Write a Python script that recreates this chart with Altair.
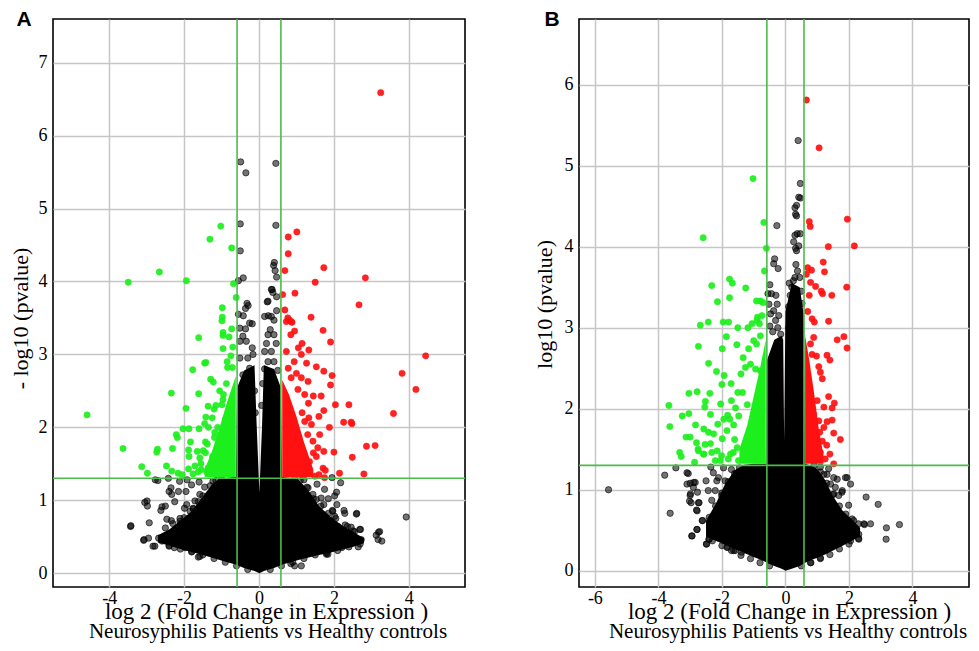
import altair as alt
import pandas as pd

SERIF = "Liberation Serif"
SANS = "Liberation Sans"

# ---------------- Panel A data ----------------
# non-significant genes (black), scattered points
a_ns = [[-0.49,5.64],[-0.35,5.49],[0.45,5.62],[-0.50,4.79],[0.45,4.77],[-0.50,4.42],[0.41,4.26],[0.39,4.22],[0.43,4.15],[0.47,4.06],
        [-0.42,4.05],[-0.55,4.01],[0.35,3.89],[0.37,3.85],[0.47,3.79],[0.22,3.72],[-0.32,3.70],[-0.29,3.67],[-0.36,3.63],[-0.55,3.55],
        [-0.42,3.53],[0.25,3.53],[0.47,3.60],[0.40,3.47],[-0.18,3.42],[-0.36,3.35],[0.30,3.34],[-0.51,3.36],[-0.25,3.43],[-0.43,3.25],
        [-0.18,3.09],[-0.34,3.18],[-0.51,3.18],[-0.16,3.00],[-0.51,2.95],[-0.30,2.95],[-0.25,2.81],[-0.43,2.72],[0.33,3.89],[0.24,3.73],
        [0.15,3.52],[0.33,3.52],[0.24,3.27],[0.40,3.27],[0.20,3.15],[0.46,3.15],[0.15,3.04],[0.33,3.04],[0.24,2.90],[0.40,2.90],
        [0.15,2.80],[0.50,2.78],[0.10,2.60],[-0.12,2.50],[-0.10,2.20],[0.07,2.30],
        [-2.77,1.28],[-2.70,1.27],[-2.42,1.30],[-2.35,1.17],[-2.40,1.12],[-2.33,1.08],[-2.12,1.26],[-2.15,1.12],[-2.99,0.99],[-2.98,0.92],
        [-2.59,0.91],[-2.62,0.86],[-3.43,0.64],[-2.93,0.69],[-2.46,0.74],[-2.34,0.72],[-2.11,0.75],[-2.09,0.68],[-3.08,0.45],[-2.95,0.48],
        [-2.83,0.37],[-1.99,0.89],[-1.93,0.94],[-1.84,0.85],[-1.71,0.99],[-2.68,0.48],[-2.59,0.44],[-2.46,0.44],[-2.40,0.37],[-2.24,0.55],
        [-2.26,0.35],[-2.06,0.44],[-1.97,0.35],[-1.79,0.30],[-1.62,0.22],[-3.05,0.97],[-3.42,0.65],[-3.07,0.46],[-2.78,0.37],[-2.50,0.92],
        [-2.11,0.71],[-2.07,0.53],[-1.80,1.21],[-1.58,1.08],[-1.49,0.85],[-1.76,0.89],[-1.58,0.23],[-1.23,1.26],[-1.92,1.28],[-1.60,1.25],
        [-1.45,1.18],[-1.95,1.12],[-2.25,0.98],[-1.62,0.98],
        [-2.50,0.62],[-2.30,0.68],[-2.00,0.76],[-1.75,0.88],[-1.50,1.06],[-1.30,1.20],[-1.15,1.27],[-1.00,1.29],[-2.40,0.38],[-2.10,0.33],
        [-1.80,0.29],[-1.50,0.25],[-1.20,0.20],[-0.90,0.15],[-0.60,0.10],[-0.30,0.05],[0.30,0.05],[0.60,0.10],[0.90,0.15],[1.20,0.20],
        [1.50,0.25],[1.80,0.28],[2.10,0.31],[2.40,0.36],[2.70,0.40],[0.95,1.29],[1.10,1.27],[1.28,1.18],[1.45,1.02],[1.65,0.92],
        [1.85,0.82],[2.05,0.75],[2.30,0.66],[2.55,0.57],
        [1.95,1.31],[2.18,1.24],[2.07,1.11],[2.02,1.06],[2.08,0.94],[2.27,0.86],[2.29,0.82],[2.61,0.82],[3.93,0.77],[2.71,0.60],
        [3.22,0.57],[3.13,0.52],[3.18,0.46],[3.28,0.44],[2.65,0.36],[0.85,0.13],[0.95,0.10],[1.96,0.86],[2.02,0.78],[1.98,0.67],
        [2.11,0.64],[2.36,0.64],[2.46,0.63],[2.55,0.44],[2.73,0.46],[2.46,0.53],[1.31,1.17],[1.44,1.08],[1.53,1.01],[1.66,1.03],
        [1.73,0.94],[1.49,0.87],[1.80,0.26],[2.21,0.35],[1.97,0.85],[2.60,0.81],[2.69,0.60],[3.19,0.56],[1.84,0.26],[1.13,0.10],
        [2.42,0.48],[2.51,0.58],[1.20,1.28],[1.55,1.22],[1.75,1.15],[1.85,1.02]]
# down-regulated genes (green)
a_dn = [[-1.02,4.76],[-1.31,4.58],[-0.73,4.46],[-2.66,4.13],[-3.49,3.99],[-1.94,4.01],[-0.68,3.97],[-0.61,3.78],[-0.98,3.64],[-0.98,3.51],
        [-0.99,3.46],[-0.96,3.30],[-0.96,3.26],[-0.73,3.35],[-1.61,3.23],[-0.80,3.24],[-0.96,3.08],[-0.75,2.98],[-1.45,2.88],[-1.42,2.89],
        [-1.77,2.79],[-0.84,2.82],[-0.71,2.82],[-1.29,2.66],[-1.22,2.62],[-0.87,2.60],[-2.34,2.47],[-1.61,2.46],[-0.95,2.45],[-0.96,2.38],
        [-0.99,2.31],[-1.36,2.29],[-1.20,2.25],[-1.95,2.26],[-4.59,2.17],[-1.42,2.14],[-1.25,2.13],[-0.90,2.11],[-1.45,2.05],[-1.35,2.00],
        [-1.60,1.98],[-2.03,1.98],[-1.87,1.98],[-2.21,1.90],[-2.18,1.86],[-1.18,1.93],[-1.19,1.86],[-1.83,1.80],[-1.43,1.80],[-1.38,1.77],
        [-3.63,1.71],[-2.71,1.70],[-2.73,1.66],[-2.31,1.71],[-1.88,1.69],[-1.87,1.60],[-1.65,1.67],[-1.58,1.58],[-1.49,1.68],[-1.43,1.65],
        [-1.24,1.60],[-1.20,1.57],[-1.27,1.51],[-3.13,1.46],[-2.98,1.37],[-2.47,1.47],[-2.33,1.40],[-2.16,1.37],[-1.88,1.43],[-1.71,1.47],
        [-1.62,1.39],[-1.54,1.42],[-1.40,1.39],[-1.36,1.44],[-1.76,1.36],[-2.05,1.35],[-1.55,1.50],[-1.10,2.00],[-0.85,2.90],[-0.70,3.10],
        [-1.05,2.50],[-1.15,2.30]]
# up-regulated genes (red)
a_up = [[3.25,6.59],[1.01,4.68],[0.78,4.61],[0.78,4.38],[0.69,4.15],[1.73,4.19],[1.50,3.99],[2.84,4.05],[0.63,3.82],[0.96,3.84],
        [2.67,3.68],[1.39,3.51],[0.69,3.61],[0.81,3.47],[0.88,3.44],[1.71,3.33],[1.91,3.17],[1.15,3.15],[1.33,3.06],[1.27,2.88],
        [1.53,2.83],[1.73,2.77],[1.95,2.71],[1.91,2.58],[1.31,2.63],[4.45,2.98],[3.82,2.74],[4.19,2.52],[3.59,2.19],[1.45,2.43],
        [1.66,2.43],[2.04,2.31],[2.40,2.31],[1.32,2.33],[1.73,2.23],[1.60,2.15],[2.26,2.07],[2.46,2.07],[2.48,2.05],[1.88,2.00],
        [2.87,1.74],[3.10,1.75],[1.73,1.67],[2.00,1.66],[2.49,1.59],[1.77,1.41],[2.15,1.37],[2.80,1.36],[1.49,1.33],[1.75,1.31],
        [0.77,3.50],[0.73,3.45],[0.86,3.45],[1.05,3.09],[1.13,3.00],[0.95,3.32],[0.85,3.27],[0.94,2.90],[0.73,3.04],[0.78,2.81],
        [1.00,2.74],[0.86,2.68],[1.13,2.68],[1.04,2.52],[1.22,2.45],[1.33,2.13],[1.22,2.08],[1.40,2.04],[1.53,1.60],[1.35,1.53],
        [1.22,1.44],[1.62,1.90],[1.44,1.81],[1.57,1.72],[1.71,1.44],[1.60,1.35],[1.45,1.65],[1.30,1.90],[1.15,2.20]]
# envelopes of the densely over-plotted cores
a_core_x  = [-2.7, -2.4, -2.1, -1.8, -1.5, -1.25, -1.05, -0.85, -0.62, -0.58, -0.4, -0.12, -0.06, 0.01, 0.08, 0.13, 0.4, 0.58, 0.62, 0.85, 1.05, 1.3, 1.6, 1.9, 2.2, 2.5, 2.8]
a_core_lo = [0.42, 0.38, 0.33, 0.29, 0.25, 0.21, 0.18, 0.15, 0.12, 0.11, 0.07, 0.03, 0.015, 0.0, 0.015, 0.03, 0.07, 0.11, 0.12, 0.15, 0.18, 0.21, 0.25, 0.28, 0.32, 0.36, 0.41]
a_core_hi = [0.52, 0.60, 0.72, 0.85, 1.05, 1.22, 1.30, 1.31, 1.32, 2.55, 2.78, 2.85, 2.0, 1.1, 2.0, 2.85, 2.8, 2.55, 1.32, 1.31, 1.28, 1.15, 0.92, 0.78, 0.66, 0.57, 0.48]
a_dn_core_x  = [-1.45, -1.25, -1.05, -0.85, -0.62]
a_dn_core_lo = [1.32, 1.32, 1.32, 1.32, 1.32]
a_dn_core_hi = [1.42, 1.68, 2.00, 2.35, 2.70]
a_up_core_x  = [0.62, 0.80, 1.00, 1.20, 1.45]
a_up_core_lo = [1.32, 1.32, 1.32, 1.32, 1.32]
a_up_core_hi = [2.65, 2.45, 2.15, 1.80, 1.42]

# ---------------- Panel B data ----------------
b_ns = [[0.40,5.31],[0.47,4.78],[0.42,4.61],[0.47,4.60],[0.35,4.51],[0.30,4.48],[0.32,4.40],[0.35,4.38],[-0.27,4.26],[0.30,4.14],
        [0.37,4.16],[0.47,4.16],[0.26,4.06],[0.42,4.01],[0.32,3.98],[0.35,3.95],[-0.34,3.85],[-0.37,3.79],[-0.23,3.73],[0.33,3.78],
        [0.38,3.70],[0.45,3.62],[0.25,3.58],[-0.49,3.53],[-0.55,3.42],[-0.44,3.42],[-0.30,3.40],[-0.52,3.29],[-0.26,3.29],[-0.37,3.21],
        [-0.21,3.15],[-0.47,3.17],[-0.31,3.09],[-0.49,3.02],[-0.24,3.00],[0.10,3.26],[0.16,3.15],[0.10,3.00],[0.20,3.50],[0.15,3.40],
        [0.50,3.45],[0.52,3.30],[-0.40,2.95],[-0.15,2.92],[0.30,3.62],[0.12,3.55],
        [-5.57,1.00],[-3.80,1.18],[-3.45,1.27],[-3.63,0.71],[-3.10,1.21],[-3.00,1.08],[-2.84,1.09],[-2.90,1.03],[-2.77,0.97],[-3.00,0.93],
        [-3.02,0.86],[-2.74,0.84],[-2.80,0.75],[-2.79,0.51],[-2.95,0.43],[-2.61,0.62],[-2.32,0.62],[-2.32,0.51],[-2.40,0.39],[-2.48,0.33],
        [-2.50,1.11],[-2.27,1.21],[-2.43,0.99],[-2.21,0.99],[-2.32,0.87],[-2.01,0.93],[-2.01,0.76],[-2.16,1.11],[-1.82,0.29],[-1.58,0.25],
        [-1.38,0.23],[-2.11,1.15],[-1.90,1.11],[-1.74,1.07],[-2.06,0.49],[-2.11,0.41],[-3.06,1.20],[-3.10,1.07],[-2.89,1.09],[-2.99,0.95],
        [-2.97,0.84],[-2.72,0.84],[-2.78,0.74],[-2.62,0.62],[-2.94,0.43],[-2.78,0.51],[-2.49,0.33],[-2.41,0.39],[-2.31,0.49],[-2.26,0.62],
        [-2.05,0.53],[-1.84,0.29],[-1.63,0.25],[-1.70,1.25],[-1.95,1.27],[-2.35,1.28],
        [-2.40,0.66],[-2.20,0.80],[-2.00,0.96],[-1.80,1.10],[-1.60,1.20],[-1.45,1.27],[-2.30,0.37],[-2.00,0.31],[-1.70,0.25],[-1.40,0.19],
        [-1.10,0.15],[-0.80,0.10],[-0.50,0.06],[0.50,0.06],[0.80,0.10],[1.10,0.15],[1.40,0.20],[1.70,0.27],[2.00,0.33],[2.30,0.40],
        [0.90,1.30],[1.10,1.22],[1.30,1.08],[1.50,0.94],[1.70,0.80],[1.90,0.70],[2.10,0.64],[2.30,0.58],
        [2.54,0.91],[2.92,0.82],[1.94,1.15],[2.05,1.07],[1.63,1.13],[1.79,0.99],[1.68,0.93],[1.99,0.81],[2.49,0.57],[2.68,0.58],
        [3.18,0.53],[3.59,0.57],[3.17,0.39],[2.31,0.39],[1.10,0.16],[0.79,0.10],[1.89,1.15],[1.78,0.97],[1.52,1.15],[1.57,1.03],
        [1.73,0.70],[2.15,0.62],[2.31,0.45],[2.05,0.37],[1.21,1.19],[1.36,1.26],[2.47,0.58],[1.31,1.19],[1.42,1.07],[1.52,0.95],
        [1.10,1.28],[2.20,0.50]]
b_dn = [[-1.02,4.84],[-0.68,4.30],[-2.59,4.11],[-0.60,3.98],[-0.66,3.70],[-1.76,3.60],[-1.67,3.55],[-2.32,3.52],[-1.25,3.49],[-1.76,3.37],
        [-2.14,3.32],[-0.91,3.33],[-0.79,3.33],[-0.71,3.31],[-0.88,3.13],[-0.74,3.15],[-2.68,3.03],[-2.43,3.07],[-1.96,3.07],[-1.79,3.07],
        [-1.50,3.00],[-1.18,3.00],[-1.05,3.05],[-0.89,3.09],[-0.82,3.05],[-1.86,2.89],[-2.74,2.77],[-1.99,2.74],[-1.53,2.79],[-1.16,2.74],
        [-1.00,2.84],[-0.91,2.80],[-0.79,2.90],[-1.33,2.63],[-2.42,2.56],[-2.17,2.46],[-1.93,2.41],[-1.71,2.31],[-1.40,2.43],[-1.26,2.51],
        [-1.10,2.55],[-0.94,2.49],[-0.79,2.47],[-3.04,2.19],[-2.78,2.21],[-2.38,2.19],[-2.52,2.09],[-2.54,2.02],[-3.67,2.04],[-2.04,2.06],
        [-1.57,2.01],[-1.47,1.91],[-1.82,1.92],[-1.94,1.87],[-1.75,1.87],[-3.04,1.94],[-3.25,1.91],[-3.64,1.78],[-2.36,1.93],[-2.83,1.80],
        [-2.57,1.75],[-2.42,1.71],[-2.26,1.69],[-2.13,1.81],[-3.13,1.65],[-3.00,1.65],[-2.80,1.58],[-2.75,1.50],[-3.33,1.46],[-3.28,1.41],
        [-2.86,1.34],[-2.57,1.44],[-2.36,1.57],[-2.15,1.48],[-1.99,1.63],[-1.84,1.73],[-1.63,1.80],[-2.05,1.36],[-1.73,1.44],[-1.52,1.52],
        [-2.74,1.48],[-2.58,1.44],[-2.53,1.56],[-2.32,1.46],[-2.21,1.36],[-2.01,1.42],[-1.80,1.38],[-1.64,1.46],[-1.48,1.36],[-1.60,1.62],
        [-1.35,2.20],[-1.20,2.05],[-1.50,2.20],[-2.00,2.30],[-1.70,2.10]]
b_up = [[0.66,5.81],[1.06,5.22],[1.95,4.34],[0.75,4.31],[0.78,4.25],[1.35,4.00],[2.17,4.01],[1.19,3.81],[1.23,3.69],[0.70,3.74],
        [0.82,3.71],[0.66,3.66],[1.93,3.50],[0.79,3.56],[0.95,3.51],[1.13,3.45],[1.17,3.42],[1.46,3.40],[0.75,3.40],[1.36,3.08],
        [0.84,3.11],[0.91,3.07],[1.63,2.85],[1.84,2.89],[1.94,2.75],[1.31,2.66],[1.40,2.60],[0.98,2.65],[1.05,2.52],[1.16,2.37],
        [1.10,2.45],[1.36,2.15],[1.54,2.07],[1.47,2.01],[1.21,2.02],[1.47,1.86],[1.31,1.84],[1.52,1.70],[1.73,1.62],[1.40,1.44],
        [1.52,1.32],[1.08,1.71],[1.16,1.60],[1.00,1.56],[1.10,1.46],[1.00,2.10],[0.89,1.93],[1.05,1.85],[1.21,1.77],[0.89,2.88],
        [0.79,2.80],[0.84,2.67],[0.70,3.20],[1.30,1.55],[1.25,1.38]]
b_core_x  = [-2.5, -2.2, -1.9, -1.6, -1.3, -1.0, -0.8, -0.62, -0.58, -0.35, -0.12, -0.07, -0.04, 0.0, 0.2, 0.45, 0.58, 0.62, 0.8, 1.0, 1.25, 1.5, 1.8, 2.1, 2.35]
b_core_lo = [0.42, 0.37, 0.32, 0.27, 0.22, 0.17, 0.14, 0.11, 0.10, 0.06, 0.025, 0.015, 0.01, 0.0, 0.025, 0.06, 0.09, 0.10, 0.13, 0.16, 0.20, 0.25, 0.31, 0.37, 0.43]
b_core_hi = [0.62, 0.82, 1.07, 1.24, 1.31, 1.32, 1.32, 1.32, 2.60, 2.85, 2.90, 2.85, 1.60, 3.20, 3.55, 3.50, 3.15, 1.32, 1.30, 1.26, 1.12, 0.92, 0.74, 0.63, 0.53]
b_dn_core_x  = [-1.45, -1.20, -1.00, -0.80, -0.62]
b_dn_core_lo = [1.32, 1.32, 1.32, 1.32, 1.32]
b_dn_core_hi = [1.50, 1.80, 2.15, 2.50, 2.85]
b_up_core_x  = [0.62, 0.75, 0.90, 1.05, 1.20]
b_up_core_lo = [1.32, 1.32, 1.32, 1.32, 1.32]
b_up_core_hi = [2.90, 2.60, 2.20, 1.75, 1.42]

# thresholds: |log2 FC| = log2(1.5), p = 0.05
fc_cut = [-0.585, 0.585]
p_cut = [1.301]

GREEN = "#1def1d"
RED = "#ff1111"
LINE = "#4cbb4c"


def pts(pairs):
    return pd.DataFrame(pairs, columns=["x", "y"])


def env(xs, lo, hi):
    return pd.DataFrame({"x": xs, "lo": lo, "hi": hi})


def panel(letter, ns, dn, up, core, dn_core, up_core, xdom, ydom, xticks, yticks,
          width, ytitle, xtitle_x, ytitle_x, ytitle_y, sub_dx, letter_x):
    xs = alt.Scale(domain=xdom, nice=False, zero=False)
    ys = alt.Scale(domain=ydom, nice=False, zero=False)
    xax = alt.Axis(values=xticks, grid=True, gridColor="#c6c6c6", gridWidth=1.5, domain=False,
                   ticks=False, labelFont=SERIF, labelFontSize=18, labelColor="black", labelPadding=2,
                   labelExpr="'' + datum.value", labelFlush=False,
                   title="log 2 (Fold Change in Expression )", titleFont=SERIF, titleFontSize=23,
                   titleFontWeight="normal", titleColor="black", titleX=xtitle_x, titleY=31,
                   titleBaseline="alphabetic", titleAlign="center")
    yax = alt.Axis(values=yticks, grid=True, gridColor="#c6c6c6", gridWidth=1.5, domain=False,
                   ticks=False, labelFont=SERIF, labelFontSize=18, labelColor="black", labelPadding=6,
                   labelExpr="'' + datum.value", labelFlush=False,
                   title=ytitle, titleFont=SERIF, titleFontSize=22, titleFontWeight="normal",
                   titleColor="black", titleX=ytitle_x, titleY=ytitle_y, titleBaseline="alphabetic",
                   titleAlign="center", titleAngle=270)
    X = alt.X("x:Q", scale=xs, axis=xax)

    def area(df, color):
        return alt.Chart(df).mark_area(color=color, opacity=1, interpolate="linear").encode(
            x=X, y=alt.Y("lo:Q", scale=ys, axis=yax), y2="hi:Q")

    def dots(df, **kw):
        return alt.Chart(df).mark_point(filled=True, shape="circle", size=40, **kw).encode(
            x=X, y=alt.Y("y:Q", scale=ys, axis=yax))

    layers = [
        area(core, "black"),
        dots(ns, fill="black", fillOpacity=0.55, stroke="black", strokeOpacity=0.75, strokeWidth=0.8),
        area(dn_core, GREEN),
        dots(dn, fill=GREEN, fillOpacity=0.92, stroke=GREEN, strokeWidth=0.5),
        area(up_core, RED),
        dots(up, fill=RED, fillOpacity=0.92, stroke=RED, strokeWidth=0.5),
        alt.Chart(pd.DataFrame({"x": fc_cut})).mark_rule(color=LINE, strokeWidth=1.6).encode(x=X),
        alt.Chart(pd.DataFrame({"y": p_cut})).mark_rule(color=LINE, strokeWidth=1.6).encode(
            y=alt.Y("y:Q", scale=ys, axis=yax)),
        alt.Chart(pd.DataFrame({"t": [letter]})).mark_text(
            font=SANS, fontSize=21, fontWeight="bold", align="center", baseline="alphabetic",
            color="black").encode(text="t:N", x=alt.value(letter_x), y=alt.value(7)),
    ]
    return alt.layer(*layers).properties(
        width=width, height=568,
        title=alt.TitleParams("Neurosyphilis Patients vs Healthy controls", orient="bottom",
                              font=SERIF, fontSize=21, fontWeight="normal", color="black",
                              anchor="middle", baseline="alphabetic", dx=sub_dx, offset=15))


panel_a = panel("A", pts(a_ns), pts(a_dn), pts(a_up),
                env(a_core_x, a_core_lo, a_core_hi),
                env(a_dn_core_x, a_dn_core_lo, a_dn_core_hi),
                env(a_up_core_x, a_up_core_lo, a_up_core_hi),
                [-5.5, 5.5], [-0.19, 7.6], [-4, -2, 0, 2, 4], [0, 1, 2, 3, 4, 5, 6, 7],
                412, "- log10 (pvalue)", 213, -26, 299, 9, -29)
panel_b = panel("B", pts(b_ns), pts(b_dn), pts(b_up),
                env(b_core_x, b_core_lo, b_core_hi),
                env(b_dn_core_x, b_dn_core_lo, b_dn_core_hi),
                env(b_up_core_x, b_up_core_lo, b_up_core_hi),
                [-6.5, 5.78], [-0.2, 6.81], [-6, -4, -2, 0, 2, 4], [0, 1, 2, 3, 4, 5, 6],
                390, "log10 (pvalue)", 210, -28, 285, 14, -27)

chart = alt.hconcat(panel_a, panel_b, spacing=114, bounds="flush").properties(
    padding={"left": 0, "top": 0, "right": 0, "bottom": 0}
).configure_view(stroke="black", strokeWidth=1.6).configure_axis(
    labelFont=SERIF, labelFontSize=18, labelColor="black")

chart.save("out.html", embed_options={"renderer": "svg", "actions": False})
